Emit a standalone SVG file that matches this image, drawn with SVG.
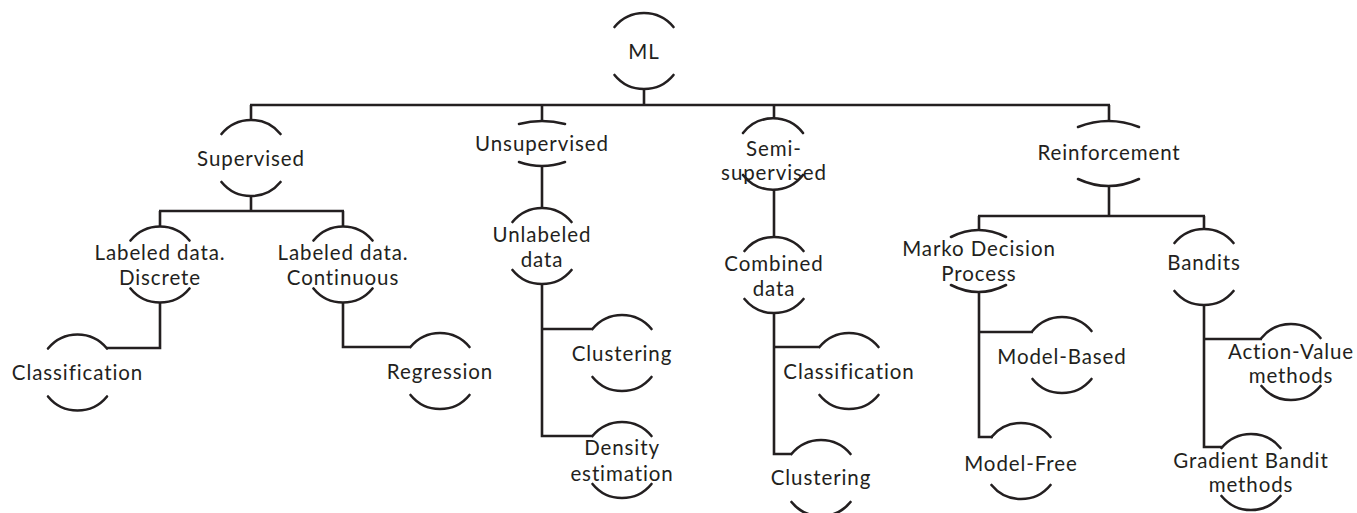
<svg xmlns="http://www.w3.org/2000/svg" xmlns:xlink="http://www.w3.org/1999/xlink" width="1357" height="513" viewBox="0 0 1357 513">
<style>
.ln{fill:none;stroke:#231f20;stroke-width:2.6;stroke-linecap:butt;stroke-linejoin:miter}
.arc{fill:none;stroke:#231f20;stroke-width:2.6;stroke-linecap:round}
text{font-family:Lato,"Noto Sans",sans-serif;font-size:20.5px;fill:#231f20;text-anchor:middle;dominant-baseline:central;letter-spacing:0.9px}
</style>
<defs>
<path id="node" class="arc" d="M-29.5,-24 A38,38 0 0 1 29.5,-24 M-29.5,24 A38,38 0 0 0 29.5,24"/>
</defs>
<rect width="1357" height="513" fill="#ffffff"/>
<g id="connectors" class="ln">
<path d="M644,89 V105"/>
<path d="M250,105 H1110"/>
<path d="M251,105 V120 M542,105 V121 M774,105 V118 M1109,105 V121"/>
<path d="M251,196 V211 M159,211 H344 M160,211 V227 M343,211 V227"/>
<path d="M160,302 V348 H107"/>
<path d="M343,302 V347 H411"/>
<path d="M542,166 V208"/>
<path d="M542,284 V436 H593 M542,329 H593"/>
<path d="M774,189 V237"/>
<path d="M774,313 V454 H792 M774,347 H820"/>
<path d="M1109,186 V216 M978,216 H1205 M979,216 V230 M1204,216 V229"/>
<path d="M979,292 V437 H993 M979,332 H1033"/>
<path d="M1204,305 V447 H1222 M1204,339 H1262"/>
</g>
<g id="n-ml"><use xlink:href="#node" href="#node" transform="translate(644,51)"/><text x="644" y="51">ML</text></g>
<g id="n-supervised"><use xlink:href="#node" href="#node" transform="translate(251,158)"/><text x="251" y="158">Supervised</text></g>
<g id="n-unsupervised"><path class="arc" d="M519,124 Q542,118 565,124 M519,162 Q542,170 565,162"/><text x="542" y="143">Unsupervised</text></g>
<g id="n-semi"><path class="arc" d="M743,133 A38,38 0 0 1 803,133 M743,175 A38,38 0 0 0 803,175"/><text x="774" y="148">Semi-</text><text x="774" y="172">supervised</text></g>
<g id="n-reinforcement"><path class="arc" d="M1078,127 Q1108.5,115 1139,127 M1078,179 Q1108.5,193 1139,179"/><text x="1109" y="152">Reinforcement</text></g>
<g id="n-discrete"><use xlink:href="#node" href="#node" transform="translate(160,264.5)"/><text x="160" y="252">Labeled data.</text><text x="160" y="277">Discrete</text></g>
<g id="n-continuous"><use xlink:href="#node" href="#node" transform="translate(343,264.5)"/><text x="343" y="252">Labeled data.</text><text x="343" y="277">Continuous</text></g>
<g id="n-unlabeled"><use xlink:href="#node" href="#node" transform="translate(542,246)"/><text x="542" y="234">Unlabeled</text><text x="542" y="259">data</text></g>
<g id="n-combined"><use xlink:href="#node" href="#node" transform="translate(774,275)"/><text x="774" y="263">Combined</text><text x="774" y="288">data</text></g>
<g id="n-mdp"><path class="arc" d="M951,237 Q978.5,223 1006,237 M951,285 Q978.5,299 1006,285"/><text x="979" y="248">Marko Decision</text><text x="979" y="273">Process</text></g>
<g id="n-bandits"><use xlink:href="#node" href="#node" transform="translate(1204,267)"/><text x="1204" y="262">Bandits</text></g>
<g id="n-classification1"><use xlink:href="#node" href="#node" transform="translate(77.5,372.5)"/><text x="77.5" y="372">Classification</text></g>
<g id="n-regression"><use xlink:href="#node" href="#node" transform="translate(440,371)"/><text x="440" y="371">Regression</text></g>
<g id="n-clustering1"><use xlink:href="#node" href="#node" transform="translate(622,353)"/><text x="622" y="353">Clustering</text></g>
<g id="n-density"><use xlink:href="#node" href="#node" transform="translate(622,460)"/><text x="622" y="447">Density</text><text x="622" y="473">estimation</text></g>
<g id="n-classification2"><use xlink:href="#node" href="#node" transform="translate(849,371)"/><text x="849" y="371">Classification</text></g>
<g id="n-clustering2"><use xlink:href="#node" href="#node" transform="translate(821,478)"/><text x="821" y="477">Clustering</text></g>
<g id="n-modelbased"><use xlink:href="#node" href="#node" transform="translate(1062,355)"/><text x="1062" y="356">Model-Based</text></g>
<g id="n-modelfree"><use xlink:href="#node" href="#node" transform="translate(1021,461)"/><text x="1021" y="463">Model-Free</text></g>
<g id="n-actionvalue"><use xlink:href="#node" href="#node" transform="translate(1291,362)"/><text x="1291" y="351">Action-Value</text><text x="1291" y="375">methods</text></g>
<g id="n-gradient"><use xlink:href="#node" href="#node" transform="translate(1251,472)"/><text x="1251" y="460">Gradient Bandit</text><text x="1251" y="484">methods</text></g>
</svg>
